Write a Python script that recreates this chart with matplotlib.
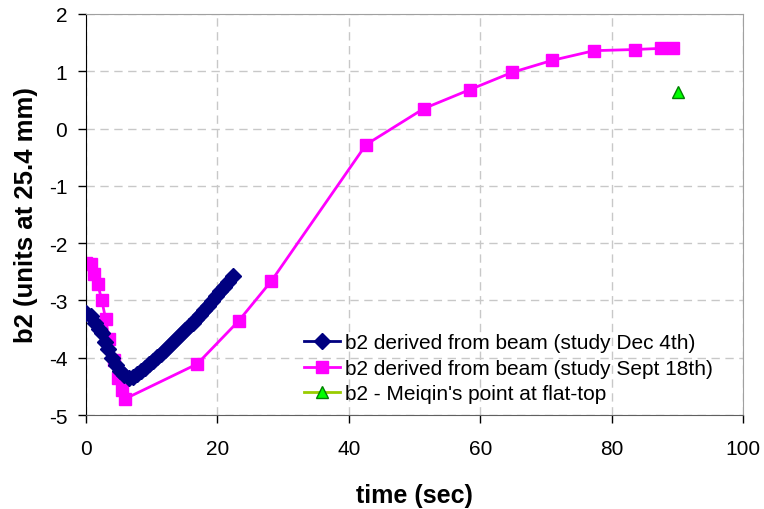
import numpy as np
import matplotlib.pyplot as plt

plt.rcParams['font.family'] = ['Liberation Sans', 'DejaVu Sans']
plt.rcParams['axes.unicode_minus'] = False

# study Dec 4th
t_dec = [0, 0.7, 1.3, 1.9, 2.4, 2.9, 3.4, 4.0, 4.6, 5.2, 5.8, 6.5, 7.2, 7.8,
         8.4, 9.0, 9.6, 10.2, 10.8, 11.4, 12.0, 12.6, 13.2, 13.8, 14.4, 15.0,
         15.6, 16.2, 16.8, 17.4, 18.0, 18.6, 19.2, 19.8, 20.4, 21.0, 21.6, 22.3]
b2_dec = [-3.22, -3.28, -3.40, -3.50, -3.57, -3.72, -3.85, -4.00, -4.13, -4.24,
          -4.30, -4.35, -4.33, -4.28, -4.24, -4.18, -4.11, -4.05, -3.99, -3.93,
          -3.86, -3.80, -3.73, -3.66, -3.59, -3.52, -3.45, -3.39, -3.32, -3.25,
          -3.17, -3.09, -3.01, -2.93, -2.84, -2.76, -2.68, -2.57]

# study Sept 18th
t_sep = [0, 0.7, 1.2, 1.8, 2.4, 3.0, 3.5, 4.2, 4.8, 5.4, 5.9, 16.9, 23.2, 28.2,
         42.6, 51.4, 58.4, 64.8, 70.9, 77.3, 83.5, 87.5, 89.3]
b2_sep = [-2.34, -2.37, -2.53, -2.72, -3.00, -3.33, -3.68, -4.04, -4.35, -4.57,
          -4.72, -4.11, -3.36, -2.66, -0.28, 0.35, 0.68, 0.98, 1.19, 1.36, 1.38,
          1.40, 1.40]

# flat-top point
t_mq = [90]
b2_mq = [0.64]

fig = plt.figure(figsize=(7.64, 5.10), dpi=100)
ax = fig.add_axes([0.1126, 0.1843, 0.8604, 0.7863])

ax.plot(t_dec, b2_dec, color='#000080', lw=2, marker='D', ms=8.5,
        label='b2 derived from beam (study Dec 4th)', zorder=3)
ax.plot(t_sep, b2_sep, color='#ff00ff', lw=2, marker='s', ms=8.5,
        label='b2 derived from beam (study Sept 18th)', zorder=2)
ax.plot(t_mq, b2_mq, color='#99cc00', lw=2, marker='^', ms=9,
        markerfacecolor='#00ff00', markeredgecolor='#008000',
        label="b2 - Meiqin's point at flat-top", zorder=4)

ax.set_xlim(0, 100)
ax.set_ylim(-5, 2)
ax.set_xticks([0, 20, 40, 60, 80, 100])
ax.set_yticks(range(-5, 3))
ax.grid(True, color='#c8c8c8', linestyle=(0, (6, 4)), lw=1)
ax.set_axisbelow(True)

ax.spines['left'].set_color('black')
ax.spines['bottom'].set_color('#606060')
ax.spines['top'].set_color('#a0a0a0')
ax.spines['right'].set_color('#a0a0a0')
ax.tick_params(axis='both', direction='out', length=5.5, width=1,
               labelsize=15)
ax.tick_params(axis='x', pad=12)
ax.tick_params(axis='y', pad=8)

ax.set_xlabel('time (sec)', fontsize=18, fontweight='bold', labelpad=18)
ax.set_ylabel('b2 (units at 25.4 mm)', fontsize=18.5, fontweight='bold',
              labelpad=8)

ax.legend(loc='lower right', bbox_to_anchor=(0.966, 0.008), frameon=False,
          fontsize=15, handlelength=1.7, handletextpad=0.25,
          labelspacing=0.32, borderaxespad=0)

fig.savefig('out.png', dpi=100)
